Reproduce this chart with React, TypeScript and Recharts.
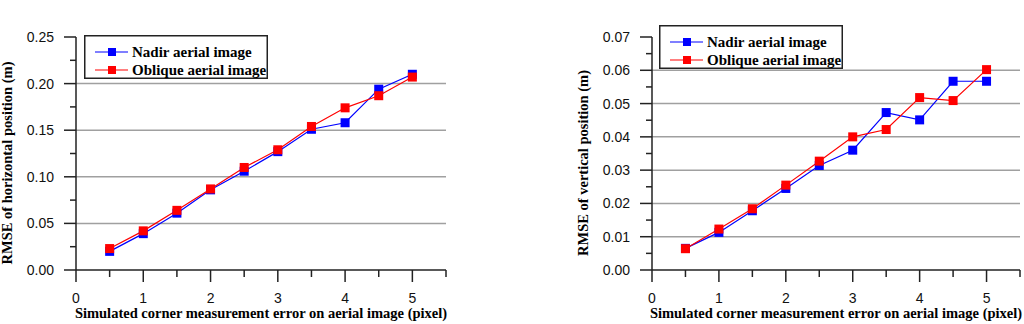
import { LineChart, Line, XAxis, YAxis, ReferenceLine, Legend, Label } from 'recharts'

// x = simulated corner measurement error (pixel)
const xValues = [0.5, 1, 1.5, 2, 2.5, 3, 3.5, 4, 4.5, 5]

// RMSE of horizontal position (m)
const nadirHorizontal = [0.02, 0.039, 0.061, 0.086, 0.106, 0.127, 0.151, 0.158, 0.194, 0.21]
const obliqueHorizontal = [0.023, 0.042, 0.064, 0.087, 0.11, 0.129, 0.154, 0.174, 0.187, 0.207]

// RMSE of vertical position (m)
const nadirVertical = [0.0065, 0.0113, 0.0178, 0.0245, 0.0314, 0.036, 0.0473, 0.0451, 0.0567, 0.0567]
const obliqueVertical = [0.0064, 0.0123, 0.0184, 0.0255, 0.0327, 0.04, 0.0422, 0.0518, 0.0509, 0.0602]

const seriesNames = ['Nadir aerial image', 'Oblique aerial image']

const xTicks = [0, 0.5, 1, 1.5, 2, 2.5, 3, 3.5, 4, 4.5, 5, 5.5]
const xTickLabels = ['0', '', '1', '', '2', '', '3', '', '4', '', '5', '']

const yTicksHorizontal = [0, 0.025, 0.05, 0.075, 0.1, 0.125, 0.15, 0.175, 0.2, 0.225, 0.25]
const yLabelsHorizontal = ['0.00', '', '0.05', '', '0.10', '', '0.15', '', '0.20', '', '0.25']
const gridHorizontal = [0.05, 0.1, 0.15, 0.2]

const yTicksVertical = [0, 0.005, 0.01, 0.015, 0.02, 0.025, 0.03, 0.035, 0.04, 0.045, 0.05, 0.055, 0.06, 0.065, 0.07]
const yLabelsVertical = ['0.00', '', '0.01', '', '0.02', '', '0.03', '', '0.04', '', '0.05', '', '0.06', '', '0.07']
const gridVertical = [0.01, 0.02, 0.03, 0.04, 0.05, 0.06]

const xTitle = 'Simulated corner measurement error on aerial image (pixel)'

const sansFont = "'Liberation Sans', Arial, sans-serif"
const serifFont = "'Liberation Serif', 'Times New Roman', serif"
const axisColor = '#222'
const blue = '#0000ff'
const red = '#ff0000'

const XTick = (props: any) => {
  const { x, y, index } = props
  const label = xTickLabels[index]
  const len = label ? 12 : 7
  return (
    <g>
      <line x1={x} x2={x} y1={y} y2={y + len} stroke={axisColor} strokeWidth={1.5} />
      {label && (
        <text x={x} y={y + 33} textAnchor="middle" fontFamily={sansFont} fontSize={14} fill="#111">
          {label}
        </text>
      )}
    </g>
  )
}

const makeYTick = (labels: string[]) => (props: any) => {
  const { x, y, index } = props
  const label = labels[index]
  const len = label ? 12 : 6
  return (
    <g>
      <line x1={x - len} x2={x} y1={y} y2={y} stroke={axisColor} strokeWidth={1.5} />
      {label && (
        <text x={x - 22} y={y + 5} textAnchor="end" fontFamily={sansFont} fontSize={14} fill="#111">
          {label}
        </text>
      )}
    </g>
  )
}

const LegendBox = ({ payload }: any) => {
  const items = payload && payload.length ? payload : seriesNames.map((n, i) => ({ value: n, color: i ? red : blue }))
  return (
    <svg width={184} height={44} style={{ display: 'block' }}>
      <rect x={0.75} y={0.75} width={182.5} height={42.5} fill="#fff" stroke={axisColor} strokeWidth={1.5} />
      {items.map((it: any, i: number) => {
        const cy = 17 + i * 18
        return (
          <g key={it.value}>
            <line x1={11} x2={44} y1={cy} y2={cy} stroke={it.color} strokeWidth={1.2} />
            <rect x={24} y={cy - 4} width={8} height={8} fill={it.color} />
            <text x={48} y={cy + 5} fontFamily={serifFont} fontWeight="bold" fontSize={15} fill="#000">
              {it.value}
            </text>
          </g>
        )
      })}
    </svg>
  )
}

interface PanelProps {
  nadir: number[]
  oblique: number[]
  yTicks: number[]
  yLabels: string[]
  grid: number[]
  yMax: number
  yTitle: string
  yAxisWidth: number
  marginRight: number
  yTitleX: number
  legendLeft: number
  legendTop: number
}

function Panel(p: PanelProps) {
  const rows = xValues.map((x, i) => ({ x, nadir: p.nadir[i], oblique: p.oblique[i] }))
  const square = (color: string) => (d: any) => (
    <rect key={d.index} x={d.cx - 4.5} y={d.cy - 4.5} width={9} height={9} fill={color} />
  )
  return (
    <LineChart width={512} height={324} data={rows} margin={{ top: 37, right: p.marginRight, bottom: 0, left: 0 }}>
      <XAxis
        type="number"
        dataKey="x"
        domain={[0, 5.5]}
        ticks={xTicks}
        interval={0}
        height={54}
        tickSize={0}
        tickMargin={0}
        tickLine={false}
        axisLine={{ stroke: axisColor, strokeWidth: 1.5 }}
        tick={XTick}
      >
        <Label
          value={xTitle}
          position="insideBottom"
          offset={6}
          fontFamily={serifFont}
          fontWeight="bold"
          fontSize={14.5}
          fill="#000"
        />
      </XAxis>
      <YAxis
        type="number"
        domain={[0, p.yMax]}
        ticks={p.yTicks}
        interval={0}
        width={p.yAxisWidth}
        tickSize={0}
        tickMargin={0}
        tickLine={false}
        axisLine={{ stroke: axisColor, strokeWidth: 1.5 }}
        tick={makeYTick(p.yLabels)}
      >
        <Label
          content={() => (
            <text
              x={p.yTitleX}
              y={163}
              transform={`rotate(-90 ${p.yTitleX} 163)`}
              textAnchor="middle"
              fontFamily={serifFont}
              fontWeight="bold"
              fontSize={14.5}
              fill="#000"
            >
              {p.yTitle}
            </text>
          )}
        />
      </YAxis>
      {p.grid.map((v) => (
        <ReferenceLine key={v} y={v} stroke="#a0a0a0" strokeWidth={1.5} />
      ))}
      <Legend
        layout="vertical"
        align="center"
        verticalAlign="middle"
        width={184}
        height={44}
        wrapperStyle={{ left: p.legendLeft, top: p.legendTop, width: 184, height: 44 }}
        content={(props: any) => <LegendBox payload={props.payload} />}
      />
      <Line
        type="linear"
        dataKey="nadir"
        name={seriesNames[0]}
        stroke={blue}
        strokeWidth={1.2}
        dot={square(blue)}
        activeDot={false}
        isAnimationActive={false}
      />
      <Line
        type="linear"
        dataKey="oblique"
        name={seriesNames[1]}
        stroke={red}
        strokeWidth={1.2}
        dot={square(red)}
        activeDot={false}
        isAnimationActive={false}
      />
    </LineChart>
  )
}

export default function App() {
  return (
    <div style={{ position: 'absolute', left: 0, top: 0, width: 1024, height: 324, background: '#fff', overflow: 'hidden' }}>
      <div style={{ position: 'absolute', left: 0, top: 0 }}>
        <Panel
          nadir={nadirHorizontal}
          oblique={obliqueHorizontal}
          yTicks={yTicksHorizontal}
          yLabels={yLabelsHorizontal}
          grid={gridHorizontal}
          yMax={0.25}
          yTitle="RMSE of horizontal position (m)"
          yAxisWidth={76}
          marginRight={66}
          yTitleX={12}
          legendLeft={84}
          legendTop={35}
        />
      </div>
      <div style={{ position: 'absolute', left: 512, top: 0 }}>
        <Panel
          nadir={nadirVertical}
          oblique={obliqueVertical}
          yTicks={yTicksVertical}
          yLabels={yLabelsVertical}
          grid={gridVertical}
          yMax={0.07}
          yTitle="RMSE of vertical position (m)"
          yAxisWidth={140}
          marginRight={4}
          yTitleX={76}
          legendLeft={147}
          legendTop={25}
        />
      </div>
    </div>
  )
}
